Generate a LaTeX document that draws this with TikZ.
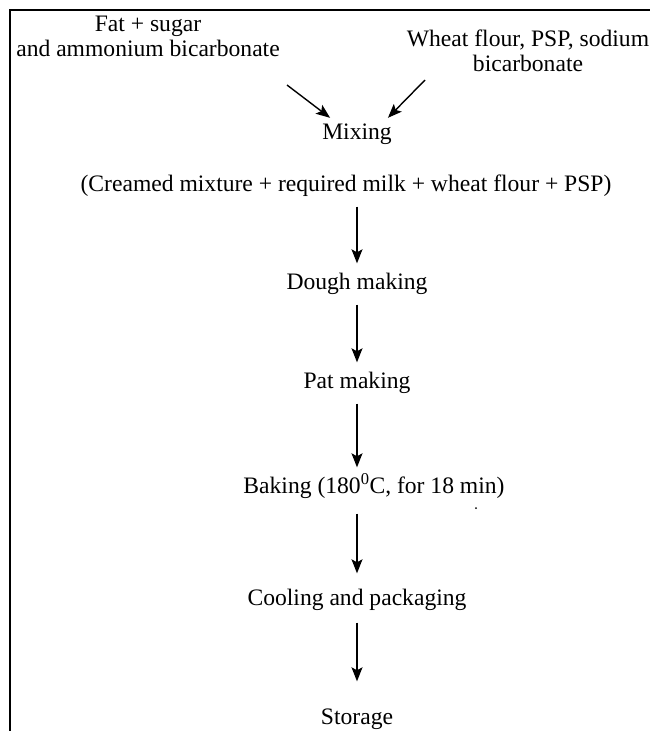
\documentclass[tikz,border=0pt]{standalone}
\usepackage{fontspec}
\setmainfont{Liberation Serif}
\usetikzlibrary{arrows.meta}
\tikzset{
    flowtext/.style={font=\fontsize{23.6}{25}\selectfont, inner sep=0pt, text height=16pt, text depth=5pt},
    inputtext/.style={font=\fontsize{23.6}{25}\selectfont, inner sep=0pt, align=center},
    tip/.style={-{Stealth[length=14pt, width=11pt, inset=3pt]}, line width=1.4pt},
    flowarrow/.style={tip, shorten <=10pt, shorten >=10pt}
}
\begin{document}
\begin{tikzpicture}[x=1pt, y=-1pt]
                \useasboundingbox (0,0) rectangle (650,731);
                \draw[line width=1.2pt] (650,10) -- (10,10) -- (10,731);

                \node[inputtext] (fat) at (148,36) {Fat + sugar\\and ammonium bicarbonate};
                \node[inputtext] (wheat) at (528,51) {Wheat flour, PSP, sodium\\bicarbonate};

                \node[flowtext] (mix) at (357,134) {Mixing};
                \node[flowtext] (cream) at (346,186) {(Creamed mixture + required milk + wheat flour + PSP)};
                \node[flowtext] (dough) at (357,284) {Dough making};
                \node[flowtext] (pat) at (357,383) {Pat making};
                \node[flowtext] (bake) at (374,488) {Baking (180\textsuperscript{0}C, for 18 min)};
                \node[flowtext] (cool) at (357,600) {Cooling and packaging};
                \node[flowtext] (store) at (357,719) {Storage};

                % inputs into the mixing step
                \coordinate (fatout) at (287,85);
                \coordinate (wheatout) at (425,80);
                \draw[tip] (fatout) -- ([shift={(8,-5.5)}]mix.north west);
                \draw[tip] (wheatout) -- ([shift={(-4,-5.5)}]mix.north east);

                \draw[flowarrow] (cream.south -| dough.north) -- (dough.north);
                \draw[flowarrow] (dough) -- (pat);
                \draw[flowarrow] (pat) -- (pat |- bake.north);
                \draw[flowarrow, shorten <=15pt, shorten >=16pt] (pat |- bake.south) -- (cool);
                \draw[flowarrow, shorten <=12pt, shorten >=27pt] (cool) -- (store);

                \fill (476,508) circle (1);
            \end{tikzpicture}
\end{document}
